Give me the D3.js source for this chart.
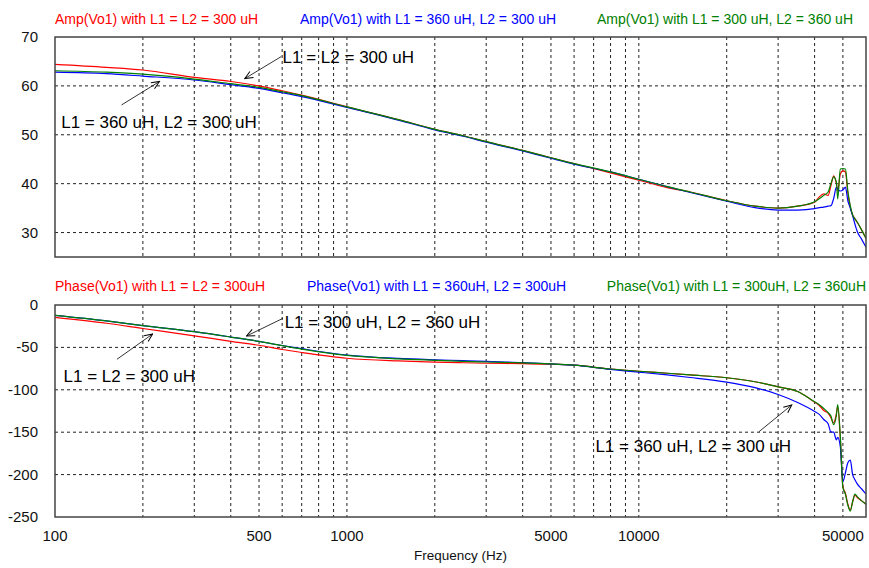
<!DOCTYPE html>
<html>
<head>
  <meta charset="utf-8">
  <script src="https://d3js.org/d3.v7.min.js"></script>
  <style>
    body { margin: 0; background: #ffffff; }
    svg { display: block; font-family: "Liberation Sans", Arial, sans-serif; }
    .tick_label { font-size: 15px; fill: #111111; }
    .title { font-size: 14px; }
    .note { font-size: 17px; fill: #000000; }
    .grid { stroke: #222222; stroke-width: 1; stroke-dasharray: 3,3; }
    .frame { fill: none; stroke: #444444; stroke-width: 1.5; }
    .curve { fill: none; stroke-width: 1.2; }
  </style>
  <title>Amp / Phase of Vo1</title>
</head>
<body>
<svg></svg>
<script>
  // frequency points (Hz), shared by every series
  const freq = [100, 150, 200, 300, 400, 500, 600, 700, 1000, 1500, 2000, 2500, 3000, 4000, 5000, 6000,
                8000, 10000, 12500, 15000, 20000, 25000, 30000, 35000, 40000, 41500, 43000, 44500, 45500,
                46500, 47500, 48000, 49000, 50000, 51000, 52000, 53000, 54000, 55000, 56000, 58000, 60000]

  // amplitude (dB)
  const ampRed = [64.4, 63.8, 63.25, 61.75, 60.9, 60.0, 59.0, 58.1, 55.7, 53.1, 51.1, 49.8, 48.6, 46.8, 45.3, 44.1,
                  42.2, 40.7, 39.2, 38.3, 36.5, 35.4, 35.0, 35.4, 36.2, 37.3, 37.9, 37.6, 39.6,
                  41.6, 40.0, 38.5, 42.0, 42.6, 42.4, 38.0, 35.2, 33.6, 32.8, 32.1, 30.5, 28.8]
  const ampBlue = [62.8, 62.5, 62.0, 61.2, 60.25, 59.5, 58.6, 57.8, 55.6, 53.0, 51.0, 49.7, 48.5, 46.7, 45.2, 44.0,
                   42.4, 40.9, 39.4, 38.2, 36.4, 35.1, 34.6, 34.6, 34.9, 35.1, 35.2, 35.4, 35.5,
                   37.0, 39.3, 38.9, 38.5, 38.7, 39.3, 36.5, 35.0, 33.4, 31.7, 30.2, 28.6, 27.0]
  const ampGreen = [63.1, 62.8, 62.4, 61.4, 60.45, 59.7, 58.8, 58.0, 55.7, 53.1, 51.1, 49.8, 48.6, 46.8, 45.3, 44.1,
                    42.4, 40.9, 39.4, 38.3, 36.5, 35.4, 35.0, 35.4, 36.3, 36.9, 37.6, 38.3, 40.0,
                    41.4, 40.3, 36.9, 43.0, 43.1, 43.0, 38.5, 35.5, 33.6, 32.8, 32.1, 30.5, 28.8]

  // phase (deg)
  const phaseRed = [-14.6, -21.5, -27.7, -36.3, -42.8, -47.5, -52.5, -56.0, -62.8, -66.0, -67.3, -68.1, -68.7, -69.2, -69.8, -71.0,
                    -75.5, -78.1, -80.5, -82.5, -85.8, -90.5, -96.6, -102.0, -114.5, -118.5, -124.5, -127.5, -133.0,
                    -139.0, -128.0, -120.0, -158.0, -214.0, -222.0, -235.0, -242.0, -232.0, -224.0, -227.0, -231.0, -235.0]
  const phaseBlue = [-12.3, -18.8, -24.3, -31.5, -37.8, -43.0, -47.8, -51.5, -59.0, -63.0, -64.6, -65.6, -66.5, -67.8, -69.5, -71.0,
                     -76.0, -79.2, -82.5, -85.5, -91.0, -97.5, -105.5, -115.0, -125.5, -129.0, -135.0, -140.0, -149.6,
                     -150.0, -159.0, -156.0, -167.0, -208.0, -198.0, -186.0, -183.0, -200.0, -206.0, -211.0, -217.0, -223.0]
  const phaseGreen = [-12.3, -18.8, -24.3, -31.5, -37.8, -43.0, -48.0, -52.0, -59.5, -63.5, -65.2, -66.4, -67.2, -68.2, -69.5, -71.0,
                      -75.5, -78.1, -80.5, -82.5, -85.8, -90.5, -96.6, -102.0, -114.2, -117.5, -122.0, -127.0, -131.0,
                      -141.0, -130.0, -117.5, -155.0, -215.0, -223.0, -236.0, -243.0, -232.0, -223.0, -226.0, -231.0, -235.0]

  const xTicks = [100, 500, 1000, 5000, 10000, 50000]
  const ampTicks = [30, 40, 50, 60, 70]
  const phaseTicks = [0, -50, -100, -150, -200, -250]

  const seriesColors = ["#ff0000", "#0000ff", "#008000"]
  const ampTitles = ["Amp(Vo1) with L1 = L2 = 300 uH", "Amp(Vo1) with L1 = 360 uH, L2 = 300 uH", "Amp(Vo1) with L1 = 300 uH, L2 = 360 uH"]
  const phaseTitles = ["Phase(Vo1) with L1 = L2 = 300uH", "Phase(Vo1) with L1 = 360uH, L2 = 300uH", "Phase(Vo1) with L1 = 300uH, L2 = 360uH"]

  // callouts: text anchor and arrow tail/head, in data units (Hz, value)
  const ampNotes = [
    {text: "L1 = L2 = 300 uH", at: [602, 64.7], from: [596, 66.0], to: [447, 61.5]},
    {text: "L1 = 360 uH, L2 = 300 uH", at: [105, 51.4], from: [169, 56.1], to: [228, 60.9]}
  ]
  const phaseNotes = [
    {text: "L1 = 300 uH, L2 = 360 uH", at: [612, -27], from: [604, -15.7], to: [453, -36.6]},
    {text: "L1 = L2 = 300 uH", at: [107, -90.4], from: [163, -64], to: [216, -34.2]},
    {text: "L1 = 360 uH, L2 = 300 uH", at: [7100, -173], from: [25800, -149.4], to: [33400, -117.9]}
  ]

  const width = 869
  const height = 568
  const left = 55
  const right = 866

  const svg = d3.select("svg").attr("width", width).attr("height", height)

  svg.append("defs").append("marker")
    .attr("id", "arrow")
    .attr("viewBox", "-1 -5 10 10")
    .attr("refX", 8)
    .attr("refY", 0)
    .attr("markerWidth", 10)
    .attr("markerHeight", 10)
    .attr("markerUnits", "userSpaceOnUse")
    .attr("orient", "auto")
    .append("path")
    .attr("d", "M0,-3.5L8,0L0,3.5")
    .attr("fill", "none")
    .attr("stroke", "#000000")
    .attr("stroke-width", 1)

  const x = d3.scaleLog().domain([100, 60000]).range([left, right])

  function panel(id, top, bottom, domain, ticks, seriesList, titles, titleY, titleX, notes) {
    const y = d3.scaleLinear().domain(domain).range([bottom, top])
    const g = svg.append("g")

    g.append("clipPath").attr("id", "clip" + id)
      .append("rect")
      .attr("x", left).attr("y", top)
      .attr("width", right - left).attr("height", bottom - top)

    // dashed grid
    g.selectAll(".vgrid")
      .data(x.ticks().filter(d => d > 100 && d < 60000))
      .enter()
      .append("line")
      .attr("class", "grid")
      .attr("x1", d => x(d)).attr("x2", d => x(d))
      .attr("y1", top).attr("y2", bottom)

    g.selectAll(".hgrid")
      .data(ticks.filter(d => d > domain[0] && d < domain[1]))
      .enter()
      .append("line")
      .attr("class", "grid")
      .attr("x1", left).attr("x2", right)
      .attr("y1", d => y(d)).attr("y2", d => y(d))

    // y tick labels
    g.selectAll(".ylab")
      .data(ticks)
      .enter()
      .append("text")
      .attr("class", "tick_label")
      .attr("x", left - 17)
      .attr("y", d => y(d) + 1)
      .attr("text-anchor", "end")
      .attr("dominant-baseline", "middle")
      .text(d => d)

    // curves, red first then blue then green
    const line = d3.line()
      .x((d, i) => x(freq[i]))
      .y(d => y(d))
      .curve(d3.curveMonotoneX)
    g.append("g").attr("clip-path", "url(#clip" + id + ")")
      .selectAll(".curve")
      .data(seriesList)
      .enter()
      .append("path")
      .attr("class", "curve")
      .attr("stroke", (d, i) => seriesColors[i])
      .attr("d", d => line(d))

    g.append("rect")
      .attr("class", "frame")
      .attr("x", left).attr("y", top)
      .attr("width", right - left).attr("height", bottom - top)

    // series titles
    g.selectAll(".title")
      .data(titles)
      .enter()
      .append("text")
      .attr("class", "title")
      .attr("x", (d, i) => titleX[i])
      .attr("y", titleY)
      .attr("text-anchor", (d, i) => i === 2 ? "end" : "start")
      .attr("fill", (d, i) => seriesColors[i])
      .text(d => d)

    // callouts
    g.selectAll(".arrow")
      .data(notes)
      .enter()
      .append("line")
      .attr("x1", d => x(d.from[0])).attr("y1", d => y(d.from[1]))
      .attr("x2", d => x(d.to[0])).attr("y2", d => y(d.to[1]))
      .attr("stroke", "#000000")
      .attr("stroke-width", 0.8)
      .attr("marker-end", "url(#arrow)")

    g.selectAll(".note")
      .data(notes)
      .enter()
      .append("text")
      .attr("class", "note")
      .attr("x", d => x(d.at[0]))
      .attr("y", d => y(d.at[1]))
      .text(d => d.text)
  }

  panel("amp", 37, 257, [25, 70], ampTicks, [ampRed, ampBlue, ampGreen],
        ampTitles, 24, [55, 300, 853], ampNotes)
  panel("phase", 305, 517, [-250, 0], phaseTicks, [phaseRed, phaseBlue, phaseGreen],
        phaseTitles, 291, [55, 307, 866], phaseNotes)

  // frequency axis labels
  svg.selectAll(".xlab")
    .data(xTicks)
    .enter()
    .append("text")
    .attr("class", "tick_label")
    .attr("x", d => x(d))
    .attr("y", 541)
    .attr("text-anchor", "middle")
    .text(d => d)

  svg.append("text")
    .attr("x", (left + right) / 2)
    .attr("y", 560)
    .attr("text-anchor", "middle")
    .style("font-size", "13.5px")
    .attr("fill", "#111111")
    .text("Frequency (Hz)")
</script>
</body>
</html>
